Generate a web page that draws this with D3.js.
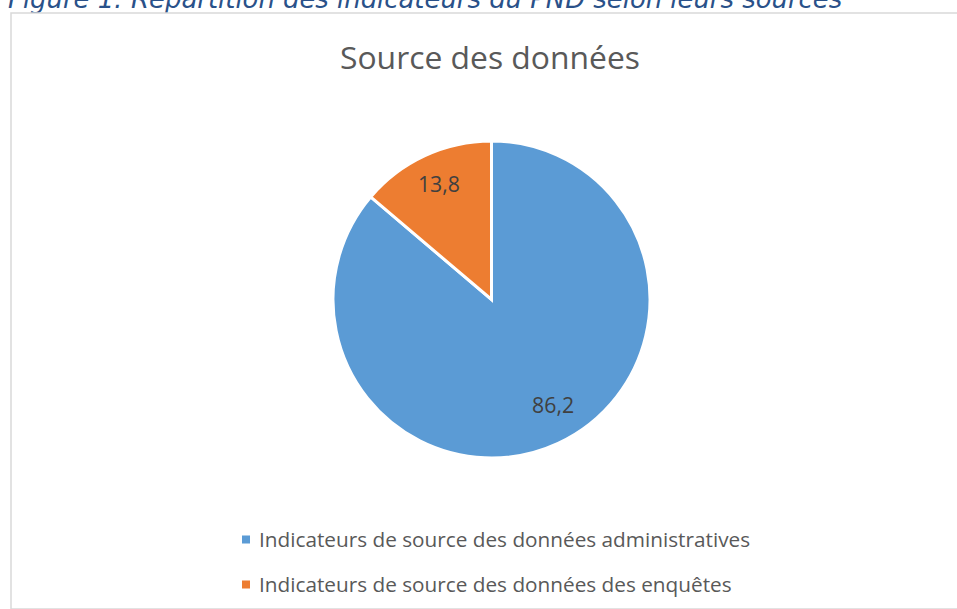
<!DOCTYPE html>
<html>
<head>
<meta charset="utf-8">
<script src="https://cdn.jsdelivr.net/npm/d3@7"></script>
<style>
  html, body { margin: 0; padding: 0; background: #ffffff; overflow: hidden; }
  svg { display: block; }
</style>
</head>
<body>
<script>
// ---- Data ----
const categories = [
  "Indicateurs de source des données administratives",
  "Indicateurs de source des données des enquêtes"
];
const values = [86.2, 13.8];
const valueLabels = ["86,2", "13,8"];
const colors = ["#5B9BD5", "#ED7D31"];
const chartTitle = "Source des données";
const figureCaption = "Figure 1: Répartition des indicateurs du PND selon leurs sources";

// ---- Layout ----
const W = 957, H = 609;
const svg = d3.select("body").append("svg").attr("width", W).attr("height", H);

function fitText(sel, targetWidth) {
  const node = sel.node();
  let fs = parseFloat(sel.attr("font-size"));
  for (let i = 0; i < 4; i++) {
    const w = node.getComputedTextLength();
    if (w > 0) fs = fs * targetWidth / w;
    sel.attr("font-size", fs);
  }
}

// Figure caption (partially cut at top, as in the reference)
const cap = svg.append("text")
  .attr("x", 8).attr("y", 8)
  .attr("font-family", "DejaVu Sans, Verdana, sans-serif")
  .attr("font-style", "italic")
  .attr("font-size", 22)
  .attr("fill", "#2A5189")
  .text(figureCaption);
fitText(cap, 834);

// Chart area border
svg.append("rect")
  .attr("x", 11).attr("y", 13)
  .attr("width", 980).attr("height", 596)
  .attr("fill", "#ffffff")
  .attr("stroke", "#D9D9D9")
  .attr("stroke-width", 1.5);

// Title
const title = svg.append("text")
  .attr("x", 490).attr("y", 69)
  .attr("text-anchor", "middle")
  .attr("font-family", "Open Sans, sans-serif")
  .attr("font-weight", 400)
  .attr("font-size", 32)
  .attr("fill", "#595959")
  .text(chartTitle);
fitText(title, 300);

// Pie
const cx = 491.5, cy = 299.5, R = 158.5;
const pie = d3.pie().sort(null).value(d => d)(values);
const arc = d3.arc().innerRadius(0).outerRadius(R);
const g = svg.append("g").attr("transform", `translate(${cx},${cy})`);

g.selectAll("path.slice")
  .data(pie)
  .join("path")
  .attr("class", "slice")
  .attr("d", arc)
  .attr("fill", (d, i) => colors[i])
  .attr("stroke", "#ffffff")
  .attr("stroke-width", 3)
  .attr("stroke-linejoin", "miter");

// Data labels
const labelArc = d3.arc().innerRadius(R * 0.79).outerRadius(R * 0.79);
const nudges = [[9, -8], [0, -1]];
g.selectAll("text.lbl")
  .data(pie)
  .join("text")
  .attr("class", "lbl")
  .attr("x", (d, i) => labelArc.centroid(d)[0] + nudges[i][0])
  .attr("y", (d, i) => labelArc.centroid(d)[1] + nudges[i][1])
  .attr("dy", "0.35em")
  .attr("text-anchor", "middle")
  .attr("font-family", "Open Sans, sans-serif")
  .attr("font-size", 20)
  .attr("fill", "#404040")
  .text((d, i) => valueLabels[i])
  .each(function () { fitText(d3.select(this), 42); });

// Legend
const legend = svg.append("g");
const rowY = d3.scaleBand().domain(categories).range([517, 607]);
const rows = legend.selectAll("g.row")
  .data(categories)
  .join("g")
  .attr("class", "row")
  .attr("transform", d => `translate(0,${rowY(d) + rowY.bandwidth() / 2})`);

rows.append("rect")
  .attr("x", 242).attr("y", -4)
  .attr("width", 8).attr("height", 8)
  .attr("fill", (d, i) => colors[i]);

const lt = rows.append("text")
  .attr("x", 259).attr("y", 0)
  .attr("dy", "0.35em")
  .attr("font-family", "Open Sans, sans-serif")
  .attr("font-size", 19)
  .attr("fill", "#595959")
  .text(d => d);
fitText(d3.select(lt.nodes()[0]), 491);
lt.attr("font-size", d3.select(lt.nodes()[0]).attr("font-size"));
</script>
</body>
</html>
